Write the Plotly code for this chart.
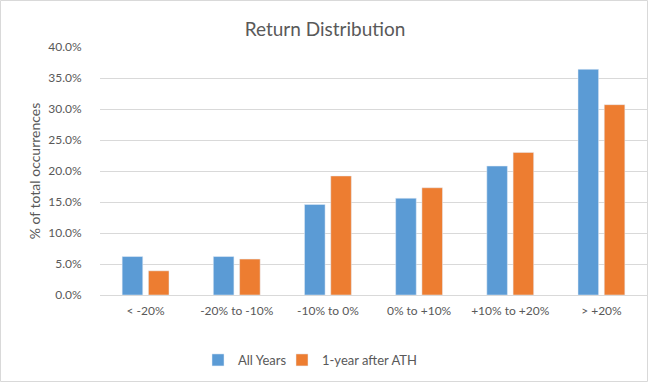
import plotly.graph_objects as go

categories = ["< -20%", "-20% to -10%", "-10% to 0%", "0% to +10%", "+10% to +20%", "> +20%"]
all_years = [6.2, 6.2, 14.6, 15.6, 20.8, 36.4]
after_ath = [3.9, 5.8, 19.2, 17.3, 23.0, 30.7]
y_ticks = [0, 5, 10, 15, 20, 25, 30, 35, 40]
y_tick_labels = [f"{v:.1f}%" for v in y_ticks]

W, H = 650, 383
L, R, T, B = 100, 3, 47, 88
pw, ph = W - L - R, H - T - B

font = "Lato"
grey = "#595959"

fig = go.Figure()
fig.add_trace(go.Bar(x=categories, y=all_years, name="All Years", marker_color="#5B9BD5", legend="legend"))
fig.add_trace(go.Bar(x=categories, y=after_ath, name="1-year after ATH", marker_color="#ED7D31", legend="legend2"))

leg_common = dict(orientation="h", xref="container", yref="container", xanchor="left",
                  yanchor="middle", y=1 - 360 / H, font=dict(size=13, color=grey), itemwidth=30,
                  bgcolor="rgba(0,0,0,0)")

fig.update_layout(
    width=W, height=H,
    margin=dict(l=L, r=R, t=T, b=B, pad=0, autoexpand=False),
    paper_bgcolor="white", plot_bgcolor="white",
    font=dict(family=font, color=grey, size=12),
    title=dict(text="Return Distribution", x=0.5, xanchor="center", xref="container",
               y=1 - 29 / H, yanchor="middle", yref="container",
               font=dict(size=19, color=grey, family=font)),
    barmode="group", bargap=0.424, bargroupgap=0.216,
    showlegend=True,
    legend=dict(x=198 / W, **leg_common),
    legend2=dict(x=282 / W, **leg_common),
    xaxis=dict(showgrid=False, showline=True, linecolor="#d9d9d9", linewidth=1,
               ticks="outside", ticklen=5, tickcolor="rgba(0,0,0,0)",
               tickfont=dict(size=12, color=grey)),
    yaxis=dict(range=[0, 40], tickvals=y_ticks, ticktext=y_tick_labels, showgrid=True, gridcolor="#d9d9d9",
               gridwidth=1, zeroline=False, showline=False,
               ticks="outside", ticklen=15, tickcolor="rgba(0,0,0,0)",
               tickfont=dict(size=12, color=grey),
               title=dict(text="% of total occurrences", font=dict(size=14, color=grey), standoff=4)),
)

fig.add_shape(type="rect", xref="paper", yref="paper",
              x0=(0.5 - L) / pw, x1=(W - 2.5 - L) / pw, y0=-(H - 1.5 - T - ph) / ph, y1=(T - 0.5 + ph) / ph,
              line=dict(color="#d9d9d9", width=1), fillcolor="rgba(0,0,0,0)", layer="below")

fig.write_html("out.html", config={"displayModeBar": False},
               post_script="document.body.style.margin='0';")
